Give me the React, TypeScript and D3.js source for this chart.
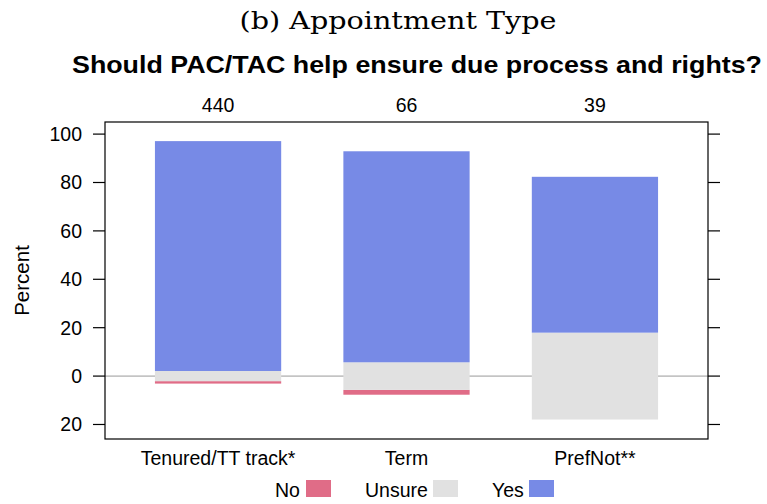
import React from "react";
import * as d3 from "d3";

const categories = ["Tenured/TT track*", "Term", "PrefNot**"];
const counts = ["440", "66", "39"];
const noPct = [1.0, 2.0, 0];
const unsurePct = [4.2, 11.4, 35.9];
const yesPct = [95.0, 87.2, 64.4];
const yTicks = [100, 80, 60, 40, 20, 0, -20];
const legendItems = ["No", "Unsure", "Yes"];
const colors = { No: "#E06C87", Unsure: "#E1E1E1", Yes: "#778AE6" };

const W = 767;
const H = 504;
const panel = { left: 105, right: 708, top: 122, bottom: 439 };
const font = "'Liberation Sans', Arial, Helvetica, sans-serif";
const fs = 19.5;

export default function App() {
  const x = d3.scaleLinear().domain([0.4, 3.6]).range([panel.left, panel.right]);
  const y = d3.scaleLinear().domain([-26, 105]).range([panel.bottom, panel.top]);
  const bw = x(1.335) - x(0.665);

  const bars: React.ReactNode[] = [];
  categories.forEach((c, i) => {
    const cx = x(i + 1);
    const halfU = unsurePct[i] / 2;
    const segs = [
      { key: "No", y0: -halfU - noPct[i], y1: -halfU },
      { key: "Unsure", y0: -halfU, y1: halfU },
      { key: "Yes", y0: halfU, y1: halfU + yesPct[i] },
    ];
    segs.forEach((s) => {
      if (s.y1 - s.y0 <= 0) return;
      bars.push(
        <rect
          key={c + s.key}
          x={cx - bw / 2}
          y={y(s.y1)}
          width={bw}
          height={y(s.y0) - y(s.y1)}
          fill={(colors as any)[s.key]}
        />
      );
    });
  });

  const legendX = [275, 365, 492];
  const swatchX = [306, 433, 529];

  return (
    <svg width={W} height={H} style={{ position: "absolute", left: 0, top: 0, background: "#fff" }}>
      <rect x={0} y={0} width={W} height={H} fill="#fff" />
      <text
        x={398}
        y={29}
        textAnchor="middle"
        fontFamily="'DejaVu Serif', 'Liberation Serif', serif"
        fontSize={25}
        textLength={317}
        lengthAdjust="spacingAndGlyphs"
      >
        (b) Appointment Type
      </text>
      <text
        x={417}
        y={73}
        textAnchor="middle"
        fontFamily={font}
        fontWeight="bold"
        fontSize={24}
        textLength={690}
        lengthAdjust="spacingAndGlyphs"
      >
        Should PAC/TAC help ensure due process and rights?
      </text>
      {counts.map((n, i) => (
        <text key={n} x={x(i + 1)} y={112} textAnchor="middle" fontFamily={font} fontSize={fs}>
          {n}
        </text>
      ))}
      <line x1={panel.left} x2={panel.right} y1={y(0)} y2={y(0)} stroke="#9a9a9a" strokeWidth={1} />
      {bars}
      <rect
        x={panel.left}
        y={panel.top}
        width={panel.right - panel.left}
        height={panel.bottom - panel.top}
        fill="none"
        stroke="#000"
        strokeWidth={1.2}
      />
      {yTicks.map((t) => (
        <g key={t}>
          <line x1={panel.left - 12} x2={panel.left} y1={y(t)} y2={y(t)} stroke="#000" strokeWidth={1.2} />
          <line x1={panel.right} x2={panel.right + 12} y1={y(t)} y2={y(t)} stroke="#000" strokeWidth={1.2} />
          <text x={82} y={y(t) + 7} textAnchor="end" fontFamily={font} fontSize={fs}>
            {Math.abs(t)}
          </text>
        </g>
      ))}
      {categories.map((c, i) => (
        <text key={c} x={x(i + 1)} y={465} textAnchor="middle" fontFamily={font} fontSize={fs}>
          {c}
        </text>
      ))}
      <text
        transform={`translate(29,${(panel.top + panel.bottom) / 2}) rotate(-90)`}
        textAnchor="middle"
        fontFamily={font}
        fontSize={20.5}
      >
        Percent
      </text>
      {legendItems.map((l, i) => (
        <g key={l}>
          <text x={legendX[i]} y={497} fontFamily={font} fontSize={fs}>
            {l}
          </text>
          <rect x={swatchX[i]} y={480} width={25} height={17} fill={(colors as any)[l]} />
        </g>
      ))}
    </svg>
  );
}
